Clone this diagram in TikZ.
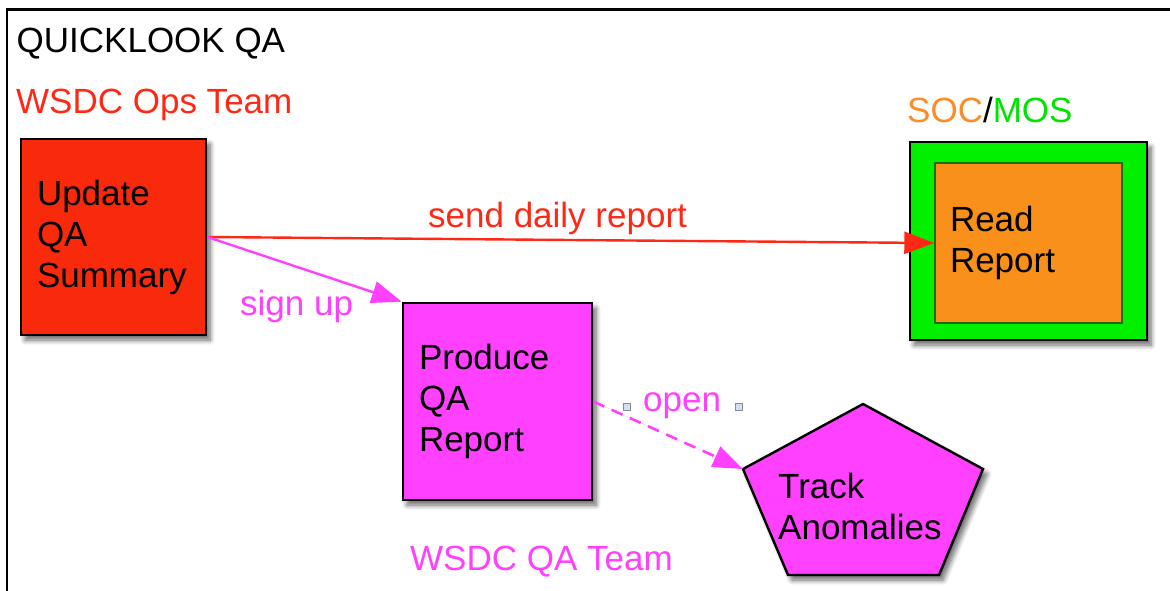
\documentclass[tikz,border=0pt]{standalone}
\usepackage{fontspec}
\setmainfont{Liberation Sans}
\usetikzlibrary{arrows.meta,shadows.blur}
\definecolor{redfill}{RGB}{249,42,12}
\definecolor{redtext}{RGB}{255,40,20}
\definecolor{mag}{RGB}{255,64,255}
\definecolor{grn}{RGB}{0,240,0}
\definecolor{orng}{RGB}{248,144,26}
\definecolor{soc}{RGB}{252,140,40}
\definecolor{mos}{RGB}{0,228,0}
\definecolor{darkgrn}{RGB}{30,110,20}
\definecolor{handlefill}{RGB}{210,222,245}
\tikzset{
  bigfont/.style={font=\fontsize{35}{41}\selectfont},
  lbl/.style={bigfont, anchor=base west, inner sep=0pt},
  shad/.style={blur shadow={shadow xshift=4pt, shadow yshift=-5pt, shadow blur radius=5pt, shadow blur steps=8, shadow opacity=60}},
  box/.style={bigfont, draw=black, line width=2.6pt, shad, align=left, text=black},
  arr/.style={-{Triangle[length=30pt,width=22pt]}},
  handle/.style={draw=gray!90, fill=handlefill, minimum size=7pt, inner sep=0pt, line width=0.7pt},
}
\begin{document}
\begin{tikzpicture}[x=1pt,y=-1pt]
\useasboundingbox (0,0) rectangle (1170,590);
% frame
\coordinate (fbl) at (7,592);
\coordinate (ftl) at (7,9.3);
\coordinate (ftr) at (1172,9.3);
\draw[line width=2.8pt] (fbl) -- (ftl) -- (ftr);

% titles
\node[lbl, text=black] (title) at (16.5,52) {QUICKLOOK QA};
\node[lbl, text=redtext] (ops) at (16,113) {WSDC Ops Team};
\node[lbl] (soc) at (907,122) {\textcolor{soc}{SOC}\textcolor{black}{/}\textcolor{mos}{MOS}};

% boxes
\node[box, fill=redfill, text width=153pt, inner xsep=16pt, minimum height=196pt] (ub) at (113.5,237) {Update\\QA\\Summary};
\node[box, fill=mag, text width=157pt, inner xsep=16pt, minimum height=197pt] (pq) at (497.5,401.5) {Produce\\QA\\Report};
\node[draw=black, line width=2.6pt, fill=grn, shad, minimum width=237pt, minimum height=198pt, inner sep=0pt] (gb) at (1028.5,241) {};
\node[bigfont, draw=darkgrn, line width=1.4pt, fill=orng, text width=157pt, inner xsep=15pt, minimum height=160pt, align=left] (rr) at (1028.5,243) {Read\\Report};

% pentagon
\coordinate (p1) at (863,404);
\coordinate (p2) at (983,469);
\coordinate (p3) at (939,575);
\coordinate (p4) at (788,575);
\coordinate (p5) at (743,469);
\draw[line width=2.4pt, fill=mag, line join=miter, shad] (p1) -- (p2) -- (p3) -- (p4) -- (p5) -- cycle;
\node[lbl, text width=180pt, align=left] (ta) at (778,498) {Track\\Anomalies};

% connectors
\draw[arr, draw=redtext, fill=redtext, line width=2.4pt] (ub.east) -- (rr.west);
\draw[arr, draw=mag, fill=mag, line width=2.4pt] (ub.east) -- (pq.north west);
\draw[arr, draw=mag, fill=mag, line width=2.6pt, dash pattern=on 12pt off 8pt] (pq.east) -- (p5);

% labels on connectors
\node[lbl, text=redtext] (sdr) at (428,227) {send daily report};
\node[lbl, text=mag] (su) at (240,315) {sign up};
\node[lbl, text=mag] (op) at (643,411) {open};
\node[handle] (h1) at (627,407) {};
\node[handle] (h2) at (739,407) {};
\node[lbl, text=mag] (qat) at (410,570) {WSDC QA Team};
\end{tikzpicture}
\end{document}
